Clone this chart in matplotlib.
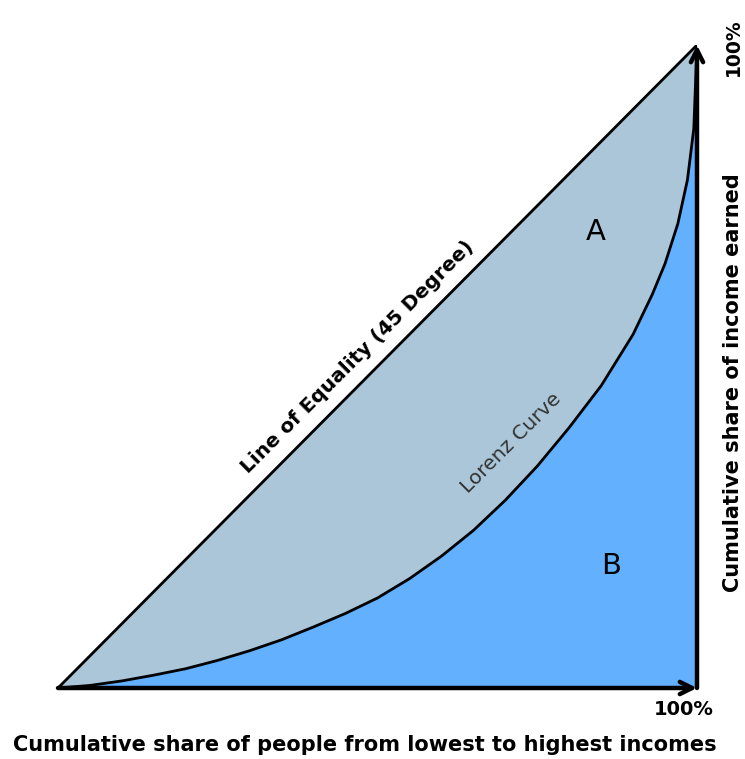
import numpy as np
import matplotlib
matplotlib.use("Agg")
import matplotlib.pyplot as plt

##############################
## Data ######################
##############################

# cumulative share of people (x) and of income (y)
pop_share = [0.0, 0.05, 0.10, 0.15, 0.20, 0.25, 0.30, 0.35, 0.40, 0.45,
             0.50, 0.55, 0.60, 0.65, 0.70, 0.75, 0.80, 0.85, 0.90, 0.93,
             0.95, 0.97, 0.985, 0.995, 1.0]
income_share = [0.0, 0.004, 0.011, 0.020, 0.030, 0.043, 0.058, 0.075, 0.095, 0.116,
                0.140, 0.170, 0.205, 0.245, 0.292, 0.345, 0.405, 0.470, 0.550, 0.612,
                0.660, 0.722, 0.790, 0.870, 1.0]

area_labels = ["A", "B"]
xlabel = "Cumulative share of people from lowest to highest incomes"
ylabel = "Cumulative share of income earned"
end_label = "100%"

##############################
## Figure setup ##############
##############################

fig = plt.figure(figsize=(7.45, 7.59), dpi=100)
ax = fig.add_axes([58/745, 71/759, 639/745, 643/759])
ax.set_xlim(0, 1)
ax.set_ylim(0, 1)
ax.axis('off')

x = np.array(pop_share)
y = np.array(income_share)

# area A between equality line and Lorenz curve, area B under the curve
ax.fill_between(x, x, y, color='#aac6d8', lw=0)
ax.fill_between(x, y, 0, color='#62b0fe', lw=0)

# line of equality and Lorenz curve
ax.plot([0, 1], [0, 1], color='black', lw=2, solid_capstyle='round')
ax.plot(x, y, color='black', lw=2, solid_joinstyle='round')

# axes with arrows
ax.annotate('', xy=(1.0, 0), xytext=(0, 0),
            arrowprops=dict(arrowstyle='->', lw=3.2, color='black',
                            mutation_scale=22, shrinkA=0, shrinkB=0))
ax.annotate('', xy=(1.0, 1.0), xytext=(1.0, 0),
            arrowprops=dict(arrowstyle='->', lw=3.2, color='black',
                            mutation_scale=22, shrinkA=0, shrinkB=0))

# labels
ax.text(0.842, 0.709, area_labels[0], fontsize=21, ha='center', va='center')
ax.text(0.865, 0.190, area_labels[1], fontsize=21, ha='center', va='center')
ax.text(0.709, 0.381, "Lorenz Curve", fontsize=14.5, color='#333333',
        rotation=45, ha='center', va='center', rotation_mode='anchor')
ax.text(0.468, 0.515, "Line of Equality (45 Degree)", fontsize=14.5,
        fontweight='bold', rotation=45, ha='center', va='center',
        rotation_mode='anchor')

ax.text(1.057, 0.997, end_label, fontsize=13.5, fontweight='bold', rotation=90,
        ha='center', va='center', clip_on=False)
ax.text(1.057, 0.475, ylabel, fontsize=15, fontweight='bold', rotation=90,
        ha='center', va='center', clip_on=False)
ax.text(0.980, -0.034, end_label, fontsize=14, fontweight='bold',
        ha='center', va='center', clip_on=False)
ax.text(0.480, -0.089, xlabel, fontsize=15, fontweight='bold',
        ha='center', va='center', clip_on=False)

##############################
## Save to file ##############
##############################

plt.savefig('out.png', dpi=100)
